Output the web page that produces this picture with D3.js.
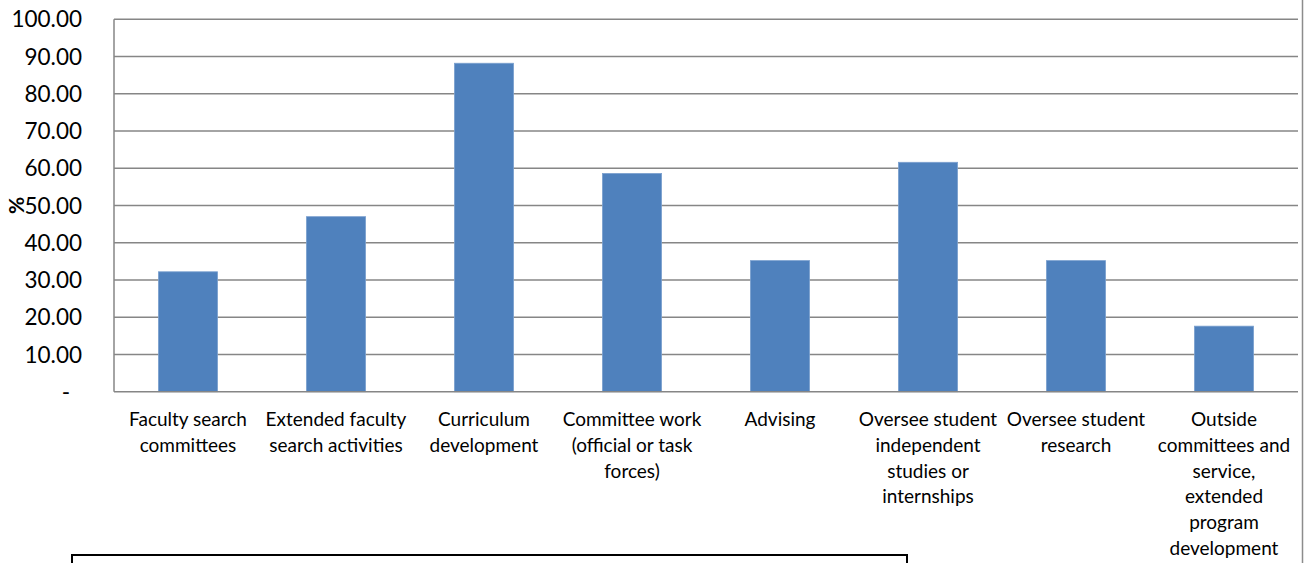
<!DOCTYPE html>
<html>
<head>
<meta charset="utf-8">
<script src="https://cdn.jsdelivr.net/npm/d3@7"></script>
<style>
  html, body { margin: 0; padding: 0; background: #fff; }
  svg { display: block; }
  text { font-family: Lato, "Open Sans", sans-serif; fill: #000; }
</style>
</head>
<body>
<svg id="chart" width="1305" height="563"></svg>
<script>
// Share of respondents (%) by service activity
const categories = [
  ["Faculty search", "committees"],
  ["Extended faculty", "search activities"],
  ["Curriculum", "development"],
  ["Committee work", "(official or task", "forces)"],
  ["Advising"],
  ["Oversee student", "independent", "studies or", "internships"],
  ["Oversee student", "research"],
  ["Outside", "committees and", "service,", "extended", "program", "development"]
];
const values = [32.2, 47.0, 88.2, 58.6, 35.2, 61.6, 35.2, 17.6];
const yTicks = [0, 10, 20, 30, 40, 50, 60, 70, 80, 90, 100];
const yTitle = "%";

const svg = d3.select("#chart");
const plot = { left: 114, right: 1298, top: 19.3, bottom: 391.7 };

const x = d3.scaleBand()
  .domain(d3.range(categories.length))
  .range([plot.left, plot.right])
  .paddingInner(0.6)
  .paddingOuter(0.3);

const y = d3.scaleLinear().domain([0, 100]).range([plot.bottom, plot.top]);

// outer chart border (right edge visible)
svg.append("line")
  .attr("x1", 1302.5).attr("x2", 1302.5).attr("y1", 0).attr("y2", 563)
  .attr("stroke", "#8c8c8c").attr("stroke-width", 1.5);

// horizontal gridlines
svg.append("g").selectAll("line")
  .data(yTicks.filter(d => d > 0))
  .join("line")
  .attr("x1", plot.left).attr("x2", plot.right)
  .attr("y1", d => y(d)).attr("y2", d => y(d))
  .attr("stroke", "#868686").attr("stroke-width", 1.5);

// bars
svg.append("g").selectAll("rect")
  .data(values)
  .join("rect")
  .attr("x", (d, i) => x(i))
  .attr("width", x.bandwidth())
  .attr("y", d => y(d))
  .attr("height", d => y(0) - y(d))
  .attr("fill", "#4f81bd")
  .attr("stroke", "#7ba0cf")
  .attr("stroke-width", 0.8);

// axes lines
svg.append("line")
  .attr("x1", plot.left).attr("x2", plot.left)
  .attr("y1", plot.top).attr("y2", plot.bottom)
  .attr("stroke", "#868686").attr("stroke-width", 1.5);
svg.append("line")
  .attr("x1", plot.left).attr("x2", plot.right)
  .attr("y1", plot.bottom).attr("y2", plot.bottom)
  .attr("stroke", "#868686").attr("stroke-width", 1.5);

// y tick labels
svg.append("g").selectAll("text")
  .data(yTicks)
  .join("text")
  .attr("x", d => d === 0 ? 70 : 82)
  .attr("y", d => y(d))
  .attr("dy", "0.36em")
  .attr("text-anchor", "end")
  .attr("font-size", 22.5)
  .text(d => d === 0 ? "-" : d3.format(".2f")(d));

// y axis title
svg.append("text")
  .attr("transform", `translate(24,${y(50)}) rotate(-90)`)
  .attr("text-anchor", "middle")
  .attr("font-size", 21)
  .attr("font-weight", "bold")
  .text(yTitle);

// category labels
const lab = svg.append("g").selectAll("text")
  .data(categories)
  .join("text")
  .attr("text-anchor", "middle")
  .attr("font-size", 19);
lab.selectAll("tspan")
  .data((d, i) => d.map(s => ({ s, i })))
  .join("tspan")
  .attr("x", d => x(d.i) + x.bandwidth() / 2)
  .attr("y", (d, j) => 426 + j * 25.8)
  .text(d => d.s);

// legend frame
svg.append("rect")
  .attr("x", 72).attr("y", 555)
  .attr("width", 835).attr("height", 30)
  .attr("fill", "none").attr("stroke", "#000").attr("stroke-width", 2);
</script>
</body>
</html>
